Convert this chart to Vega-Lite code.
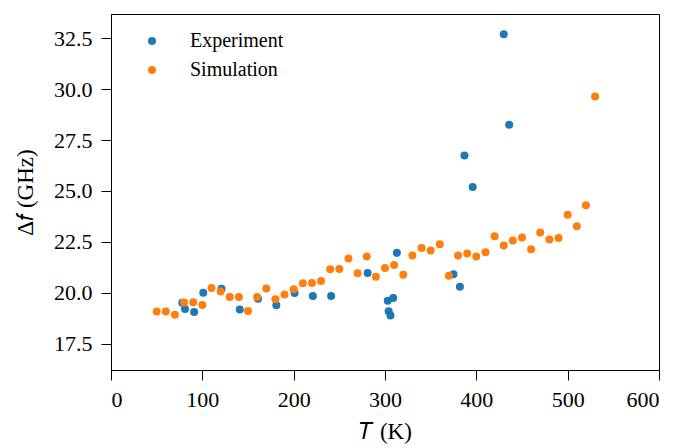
{
  "$schema": "https://vega.github.io/schema/vega-lite/v6.json",
  "width": 548,
  "height": 356,
  "autosize": "none",
  "padding": {"left": 111, "top": 14, "right": 21, "bottom": 78},
  "background": "white",
  "config": {
    "font": "Liberation Serif",
    "style": {"guide-label": {"font": "Liberation Serif"}, "guide-title": {"font": "Liberation Serif"}},
    "view": {"stroke": "black", "strokeWidth": 1},
    "axis": {"grid": false, "domainColor": "black", "tickColor": "black", "labelColor": "black", "titleColor": "black", "labelFont": "Liberation Serif", "titleFont": "Liberation Serif", "labelFontSize": 22, "titleFontSize": 23, "titleFontWeight": "normal", "tickSize": 10}
  },
  "datasets": {
    "pts": [
      {"series": "Experiment", "T": 78, "df": 19.5},
      {"series": "Experiment", "T": 81, "df": 19.2},
      {"series": "Experiment", "T": 91, "df": 19.05},
      {"series": "Experiment", "T": 101, "df": 20.0},
      {"series": "Experiment", "T": 121, "df": 20.2},
      {"series": "Experiment", "T": 141, "df": 19.18},
      {"series": "Experiment", "T": 161, "df": 19.7},
      {"series": "Experiment", "T": 181, "df": 19.38},
      {"series": "Experiment", "T": 201, "df": 19.98},
      {"series": "Experiment", "T": 221, "df": 19.84},
      {"series": "Experiment", "T": 241, "df": 19.84},
      {"series": "Experiment", "T": 281, "df": 20.97},
      {"series": "Experiment", "T": 303, "df": 19.61},
      {"series": "Experiment", "T": 309, "df": 19.74},
      {"series": "Experiment", "T": 304, "df": 19.09},
      {"series": "Experiment", "T": 306, "df": 18.88},
      {"series": "Experiment", "T": 313, "df": 21.96},
      {"series": "Experiment", "T": 375, "df": 20.91},
      {"series": "Experiment", "T": 382, "df": 20.29},
      {"series": "Experiment", "T": 387, "df": 26.75},
      {"series": "Experiment", "T": 396, "df": 25.2},
      {"series": "Experiment", "T": 430, "df": 32.71},
      {"series": "Experiment", "T": 436, "df": 28.25},
      {"series": "Simulation", "T": 50, "df": 19.07},
      {"series": "Simulation", "T": 60, "df": 19.07},
      {"series": "Simulation", "T": 70, "df": 18.91},
      {"series": "Simulation", "T": 80, "df": 19.52},
      {"series": "Simulation", "T": 90, "df": 19.53},
      {"series": "Simulation", "T": 100, "df": 19.4},
      {"series": "Simulation", "T": 110, "df": 20.23},
      {"series": "Simulation", "T": 120, "df": 20.06},
      {"series": "Simulation", "T": 130, "df": 19.79},
      {"series": "Simulation", "T": 140, "df": 19.79},
      {"series": "Simulation", "T": 150, "df": 19.1},
      {"series": "Simulation", "T": 160, "df": 19.79},
      {"series": "Simulation", "T": 170, "df": 20.21},
      {"series": "Simulation", "T": 180, "df": 19.68},
      {"series": "Simulation", "T": 190, "df": 19.91},
      {"series": "Simulation", "T": 200, "df": 20.17},
      {"series": "Simulation", "T": 210, "df": 20.46},
      {"series": "Simulation", "T": 220, "df": 20.48},
      {"series": "Simulation", "T": 230, "df": 20.57},
      {"series": "Simulation", "T": 240, "df": 21.15},
      {"series": "Simulation", "T": 250, "df": 21.17},
      {"series": "Simulation", "T": 260, "df": 21.68},
      {"series": "Simulation", "T": 270, "df": 20.96},
      {"series": "Simulation", "T": 280, "df": 21.78},
      {"series": "Simulation", "T": 290, "df": 20.78},
      {"series": "Simulation", "T": 300, "df": 21.22},
      {"series": "Simulation", "T": 310, "df": 21.36},
      {"series": "Simulation", "T": 320, "df": 20.88},
      {"series": "Simulation", "T": 330, "df": 21.83},
      {"series": "Simulation", "T": 340, "df": 22.2},
      {"series": "Simulation", "T": 350, "df": 22.08},
      {"series": "Simulation", "T": 360, "df": 22.38},
      {"series": "Simulation", "T": 370, "df": 20.83},
      {"series": "Simulation", "T": 380, "df": 21.83},
      {"series": "Simulation", "T": 390, "df": 21.93},
      {"series": "Simulation", "T": 400, "df": 21.78},
      {"series": "Simulation", "T": 410, "df": 21.99},
      {"series": "Simulation", "T": 420, "df": 22.78},
      {"series": "Simulation", "T": 430, "df": 22.32},
      {"series": "Simulation", "T": 440, "df": 22.57},
      {"series": "Simulation", "T": 450, "df": 22.71},
      {"series": "Simulation", "T": 460, "df": 22.14},
      {"series": "Simulation", "T": 470, "df": 22.96},
      {"series": "Simulation", "T": 480, "df": 22.62},
      {"series": "Simulation", "T": 490, "df": 22.69},
      {"series": "Simulation", "T": 500, "df": 23.83},
      {"series": "Simulation", "T": 510, "df": 23.27},
      {"series": "Simulation", "T": 520, "df": 24.3},
      {"series": "Simulation", "T": 530, "df": 29.65}
    ]
  },
  "data": {"name": "pts"},
  "mark": {"type": "circle", "size": 64, "opacity": 1},
  "encoding": {
    "x": {"field": "T", "type": "quantitative", "scale": {"domain": [0, 600], "nice": false}, "axis": {"values": [0, 100, 200, 300, 400, 500, 600], "title": "𝑇 (K)", "labelFont": "Liberation Serif", "titleFont": "Liberation Serif", "labelPadding": 9, "titlePadding": 10}},
    "y": {"field": "df", "type": "quantitative", "scale": {"domain": [16.2, 33.7], "nice": false, "zero": false}, "axis": {"values": [17.5, 20, 22.5, 25, 27.5, 30, 32.5], "format": ".1f", "title": "Δ𝑓 (GHz)", "labelFont": "Liberation Serif", "titleFont": "Liberation Serif", "labelPadding": 9, "titlePadding": 16}},
    "color": {"field": "series", "type": "nominal", "scale": {"domain": ["Experiment", "Simulation"], "range": ["#1f77b4", "#ff7f0e"]}, "legend": {"title": null, "orient": "none", "legendX": 31, "legendY": 17, "labelFont": "Liberation Serif", "labelFontSize": 20, "labelColor": "black", "symbolType": "circle", "symbolSize": 64, "symbolStrokeWidth": 0, "symbolOpacity": 1, "rowPadding": 9, "labelOffset": 28}}
  }
}
